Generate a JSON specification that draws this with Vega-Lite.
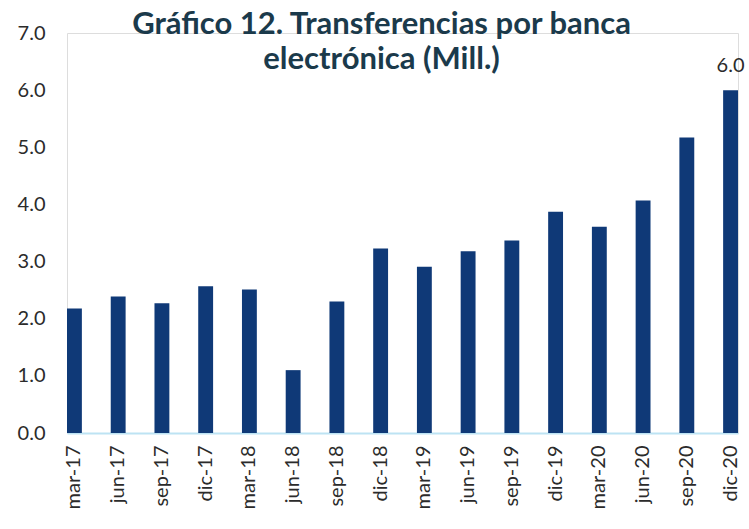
{
  "$schema": "https://vega.github.io/schema/vega-lite/v6.json",
  "width": 671,
  "height": 400,
  "autosize": {"type": "none"},
  "padding": {"left": 67, "top": 33, "right": 11, "bottom": 96},
  "background": "white",
  "title": {
    "text": ["Gráfico 12. Transferencias por banca", "electrónica (Mill.)"],
    "font": "Lato",
    "fontSize": 31,
    "fontWeight": "bold",
    "color": "#1b3a4b",
    "anchor": "middle",
    "dx": -21,
    "offset": -53,
    "lineHeight": 35
  },
  "data": {
    "values": [
      {"p": "mar-17", "v": 2.18},
      {"p": "jun-17", "v": 2.39},
      {"p": "sep-17", "v": 2.27},
      {"p": "dic-17", "v": 2.57},
      {"p": "mar-18", "v": 2.51},
      {"p": "jun-18", "v": 1.10},
      {"p": "sep-18", "v": 2.30},
      {"p": "dic-18", "v": 3.23},
      {"p": "mar-19", "v": 2.91},
      {"p": "jun-19", "v": 3.18},
      {"p": "sep-19", "v": 3.37},
      {"p": "dic-19", "v": 3.87},
      {"p": "mar-20", "v": 3.61},
      {"p": "jun-20", "v": 4.07},
      {"p": "sep-20", "v": 5.17},
      {"p": "dic-20", "v": 6.0, "lab": "6.0"}
    ]
  },
  "encoding": {
    "x": {
      "field": "p", "type": "nominal", "sort": null,
      "scale": {"paddingInner": 0.66, "paddingOuter": 0},
      "axis": {
        "title": null, "labelAngle": -90, "labelFont": "Lato", "labelFontSize": 20,
        "labelColor": "#2b2b2b", "ticks": false, "labelPadding": 12,
        "domainColor": "#bde3f3", "domainWidth": 2
      }
    },
    "y": {
      "field": "v", "type": "quantitative",
      "scale": {"domain": [0, 7]},
      "axis": {
        "title": null, "values": [0,1,2,3,4,5,6,7], "format": ".1f",
        "labelFont": "Lato", "labelFontSize": 20, "labelColor": "#2b2b2b",
        "domain": false, "ticks": false, "grid": false, "labelPadding": 22
      }
    }
  },
  "layer": [
    {"mark": {"type": "bar", "color": "#0f3977"}},
    {
      "transform": [{"filter": "isValid(datum.lab)"}],
      "mark": {"type": "text", "dy": -14, "font": "Lato", "fontSize": 20, "color": "#2b2b2b", "baseline": "bottom"},
      "encoding": {"text": {"field": "lab"}}
    }
  ]
}
